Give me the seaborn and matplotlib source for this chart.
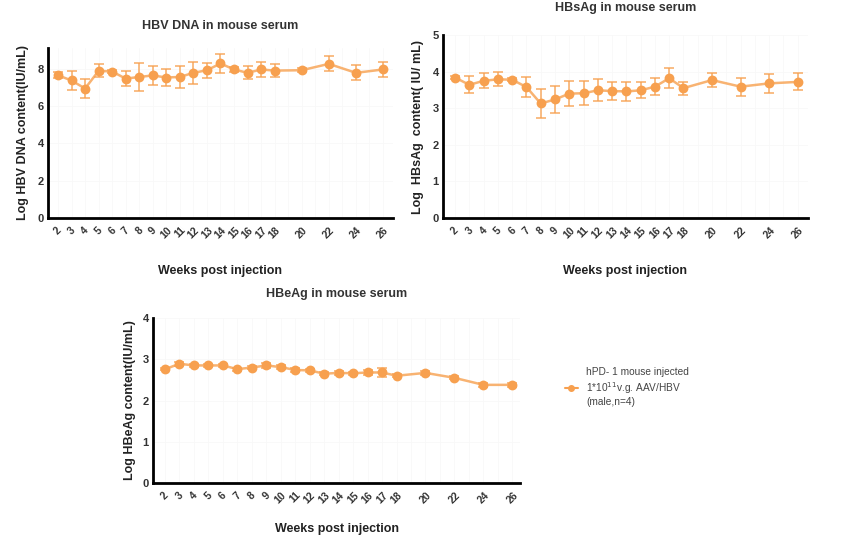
import numpy as np
import pandas as pd
import matplotlib.pyplot as plt
import seaborn as sns

# weeks post injection (shared by all three panels)
weeks = [2, 3, 4, 5, 6, 7, 8, 9, 10, 11, 12, 13, 14, 15, 16, 17, 18, 20, 22, 24, 26]

# HBV DNA, log IU/mL (mean and SEM)
dna_mean = [7.64, 7.36, 6.93, 7.88, 7.84, 7.46, 7.55, 7.63, 7.52, 7.55, 7.77,
            7.91, 8.27, 7.95, 7.77, 7.95, 7.89, 7.91, 8.25, 7.77, 7.95]
dna_err = [0.15, 0.5, 0.5, 0.35, 0.08, 0.4, 0.73, 0.5, 0.45, 0.6, 0.6,
           0.4, 0.5, 0.12, 0.35, 0.38, 0.33, 0.1, 0.4, 0.4, 0.38]

# HBsAg, log IU/mL
sag_mean = [3.84, 3.64, 3.75, 3.79, 3.78, 3.58, 3.13, 3.24, 3.40, 3.41, 3.49,
            3.47, 3.46, 3.49, 3.59, 3.82, 3.55, 3.77, 3.59, 3.68, 3.72]
sag_err = [0.03, 0.23, 0.2, 0.19, 0.04, 0.27, 0.39, 0.38, 0.35, 0.33, 0.3,
           0.24, 0.27, 0.22, 0.24, 0.27, 0.18, 0.18, 0.25, 0.25, 0.23]

# HBeAg, log IU/mL
eag_mean = [2.76, 2.89, 2.85, 2.85, 2.85, 2.76, 2.80, 2.85, 2.81, 2.74, 2.73,
            2.65, 2.67, 2.66, 2.68, 2.68, 2.60, 2.67, 2.55, 2.38, 2.38]
eag_err = [0.03, 0.05, 0.04, 0.04, 0.04, 0.04, 0.04, 0.05, 0.04, 0.04, 0.04,
           0.04, 0.04, 0.04, 0.05, 0.1, 0.04, 0.04, 0.04, 0.04, 0.05]

legend_text = "hPD- 1 mouse injected\n1*10$^{11}$v.g. AAV/HBV\n(male,n=4)"

sns.set_style("white")
plt.rcParams['font.family'] = ['Liberation Sans', 'DejaVu Sans']

orange = "#F7A04F"

fig = plt.figure(figsize=(8.52, 5.38), dpi=100)


def panel(rect, mean, err, title, ylabel, ylim, yticks, xlim, tpad, xpad, ypad):
    ax = fig.add_axes(rect)
    df = pd.DataFrame({"week": weeks, "value": mean})
    ax.errorbar(weeks, mean, yerr=err, fmt="none", ecolor=orange, alpha=0.75,
                elinewidth=1.3, capsize=3.5, capthick=1.3, zorder=2)
    sns.lineplot(data=df, x="week", y="value", ax=ax, color=orange, linewidth=1.8,
                 alpha=0.8, zorder=3)
    sns.scatterplot(data=df, x="week", y="value", ax=ax, color=orange, s=50,
                    edgecolor=orange, linewidth=0, zorder=4)
    ax.set_xlim(*xlim)
    ax.set_ylim(*ylim)
    ax.set_yticks(yticks)
    ax.set_yticklabels([str(t) for t in yticks], fontsize=8, fontweight="bold", color="#333333")
    ticks = list(range(2, 27))
    ax.set_xticks(ticks)
    ax.set_xticklabels([str(t) if t in weeks else "" for t in ticks], rotation=45,
                       fontsize=7.5, fontweight="bold", color="#333333")
    ax.tick_params(axis="x", length=4, width=1.8, color="black", pad=1)
    ax.tick_params(axis="y", length=0, pad=3)
    for s in ["top", "right"]:
        ax.spines[s].set_visible(False)
    for s in ["left", "bottom"]:
        ax.spines[s].set_linewidth(2)
        ax.spines[s].set_color("black")
    ax.grid(True, color="#f8f8f8", linewidth=0.6)
    ax.set_axisbelow(True)
    ax.set_title(title, fontsize=9, fontweight="bold", color="#333333", pad=tpad)
    ax.set_ylabel(ylabel, fontsize=9, fontweight="bold", color="#222222", labelpad=ypad)
    ax.set_xlabel("Weeks post injection", fontsize=9, fontweight="bold",
                  color="#222222", labelpad=xpad)
    return ax


ax1 = panel([0.0563, 0.5948, 0.405, 0.316], dna_mean, dna_err,
            "HBV DNA in mouse serum", "Log HBV DNA content(IU/mL)",
            (0, 9.1), [0, 2, 4, 6, 8], (1.26, 26.74), 14, 18, 6)

ax2 = panel([0.52, 0.5948, 0.428, 0.34], sag_mean, sag_err,
            "HBsAg in mouse serum", "Log  HBsAg  content( IU/ mL)",
            (0, 5), [0, 1, 2, 3, 4, 5], (1.16, 26.7), 17, 18, 6)

ax3 = panel([0.1796, 0.102, 0.431, 0.307], eag_mean, eag_err,
            "HBeAg in mouse serum", "Log HBeAg content(IU/mL)",
            (0, 4), [0, 1, 2, 3, 4], (1.17, 26.55), 15, 13, 5)

handle = plt.Line2D([], [], color=orange, marker="o", markersize=4, linewidth=1.5)
leg = fig.legend(handles=[handle], labels=[legend_text], loc="center left",
                 bbox_to_anchor=(0.652, 0.28), frameon=False, fontsize=7.3,
                 handlelength=1.3, labelcolor="#444444")

fig.savefig("out.png", dpi=100)
